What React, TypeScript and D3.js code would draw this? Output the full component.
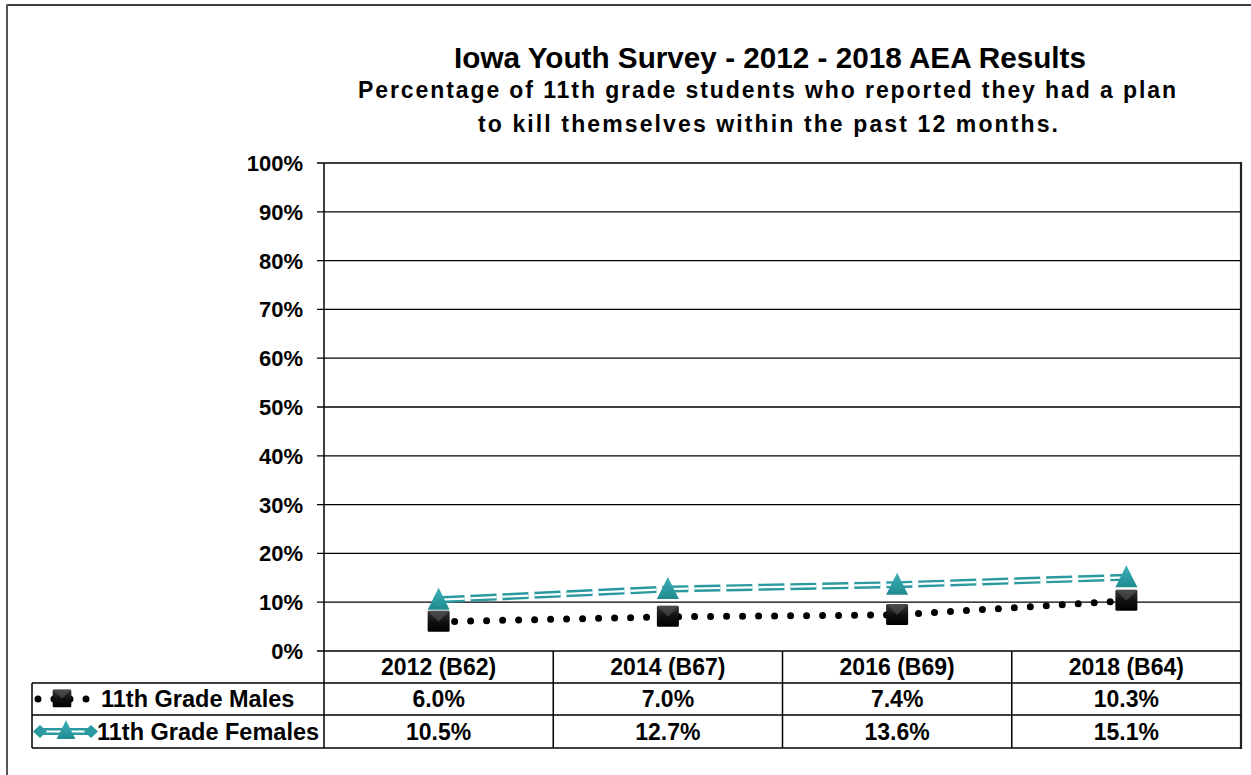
import React from "react";
import * as d3 from "d3";

const categories = ["2012 (B62)", "2014 (B67)", "2016 (B69)", "2018 (B64)"];
const males = [6.0, 7.0, 7.4, 10.3];
const females = [10.5, 12.7, 13.6, 15.1];
const seriesNames = ["11th Grade Males", "11th Grade Females"];
const yTicks = [0, 10, 20, 30, 40, 50, 60, 70, 80, 90, 100];
const titleLines = [
  "Iowa Youth Survey - 2012 - 2018 AEA Results",
  "Percentage  of 11th grade  students  who reported they had a plan",
  "to kill  themselves  within  the past 12 months.",
];

const W = 1251;
const H = 775;
const left = 324;
const right = 1241;
const top = 163;
const bottom = 651;
const rowH = [651, 683, 715, 748];
const legendLeft = 32;
const TEAL = "#2A9AA0";
const FONT = "'Liberation Sans', Arial, sans-serif";

export default function App() {
  const x = d3.scaleBand<string>().domain(categories).range([left, right]);
  const y = d3.scaleLinear().domain([0, 100]).range([bottom, top]);
  const cx = (i: number) => (x(categories[i]) as number) + x.bandwidth() / 2;
  const line = d3
    .line<number>()
    .x((_, i) => cx(i))
    .y((d) => y(d));

  const tri = (px: number, py: number, s = 1) =>
    `M${px},${py - 12 * s} L${px + 11 * s},${py + 10 * s} L${px - 11 * s},${py + 10 * s} Z`;

  const square = (px: number, py: number, key: string, s = 1) => (
    <g key={key}>
      <rect x={px - 11 * s} y={py - 10 * s} width={22 * s} height={21 * s} fill="url(#sqGrad)" rx={1.5} />
      <path
        d={`M${px - 11 * s},${py - 10 * s} L${px + 11 * s},${py - 10 * s} L${px},${py + 1 * s} Z`}
        fill="#5a5a5a"
        opacity={0.55}
      />
    </g>
  );

  const diamond = (px: number, py: number) =>
    `M${px - 7},${py} L${px},${py - 6.5} L${px + 7},${py} L${px},${py + 6.5} Z`;

  const rowMid = [
    (rowH[0] + rowH[1]) / 2,
    (rowH[1] + rowH[2]) / 2,
    (rowH[2] + rowH[3]) / 2,
  ];

  return (
    <svg
      width={W}
      height={H}
      style={{ position: "absolute", left: 0, top: 0, background: "#fff" }}
      fontFamily={FONT}
    >
      <defs>
        <linearGradient id="sqGrad" x1="0" y1="0" x2="0" y2="1">
          <stop offset="0" stopColor="#3a3a3a" />
          <stop offset="0.5" stopColor="#111" />
          <stop offset="1" stopColor="#000" />
        </linearGradient>
        <linearGradient id="triGrad" x1="0" y1="0" x2="0" y2="1">
          <stop offset="0" stopColor="#3db3b8" />
          <stop offset="1" stopColor="#1f8a90" />
        </linearGradient>
      </defs>
      <rect x={0} y={0} width={W} height={H} fill="#fff" />
      {/* outer frame */}
      <line x1={7} y1={5} x2={W + 10} y2={5} stroke="#000" strokeWidth={1.5} />
      <line x1={7} y1={4.5} x2={7} y2={H + 10} stroke="#555" strokeWidth={2} />

      {/* titles */}
      <text x={770} y={67.5} textAnchor="middle" fontWeight="bold" fontSize={29} textLength={632} lengthAdjust="spacingAndGlyphs">
        {titleLines[0]}
      </text>
      <text x={767} y={98} textAnchor="middle" fontWeight="bold" fontSize={23} textLength={818} lengthAdjust="spacing">
        {titleLines[1]}
      </text>
      <text x={768} y={132} textAnchor="middle" fontWeight="bold" fontSize={23} textLength={580} lengthAdjust="spacing">
        {titleLines[2]}
      </text>

      {/* gridlines and ticks */}
      {yTicks.map((t) => (
        <g key={t}>
          <line x1={left - 7} x2={right} y1={y(t)} y2={y(t)} stroke="#000" strokeWidth={1.3} />
          <text x={303} y={y(t)} dy="0.36em" textAnchor="end" fontWeight="bold" fontSize={22}>
            {t}%
          </text>
        </g>
      ))}
      {/* axis and right border */}
      <line x1={left} x2={left} y1={top} y2={rowH[3]} stroke="#000" strokeWidth={1.5} />
      <line x1={right} x2={right} y1={top - 1} y2={rowH[3] + 1} stroke="#222" strokeWidth={2.2} />

      {/* data table */}
      {categories.slice(1).map((c) => (
        <line key={c} x1={x(c) as number} x2={x(c) as number} y1={rowH[0]} y2={rowH[3]} stroke="#000" strokeWidth={1.5} />
      ))}
      {rowH.slice(1).map((r) => (
        <line key={r} x1={legendLeft} x2={right} y1={r} y2={r} stroke="#000" strokeWidth={1.5} />
      ))}
      <line x1={legendLeft} x2={legendLeft} y1={rowH[1]} y2={rowH[3]} stroke="#000" strokeWidth={1.5} />
      {categories.map((c, i) => (
        <g key={c}>
          <text x={cx(i)} y={rowMid[0]} dy="0.36em" textAnchor="middle" fontWeight="bold" fontSize={23}>
            {c}
          </text>
          <text x={cx(i)} y={rowMid[1]} dy="0.36em" textAnchor="middle" fontWeight="bold" fontSize={23}>
            {males[i].toFixed(1)}%
          </text>
          <text x={cx(i)} y={rowMid[2]} dy="0.36em" textAnchor="middle" fontWeight="bold" fontSize={23}>
            {females[i].toFixed(1)}%
          </text>
        </g>
      ))}

      {/* legend keys */}
      <line x1={38} x2={87} y1={rowMid[1]} y2={rowMid[1]} stroke="#000" strokeWidth={7} strokeLinecap="round" strokeDasharray="0 16" />
      {square(62, rowMid[1] - 1, "lg-sq", 0.85)}
      <line x1={40} x2={92} y1={rowMid[2]} y2={rowMid[2]} stroke={TEAL} strokeWidth={7} />
      <line x1={40} x2={92} y1={rowMid[2]} y2={rowMid[2]} stroke="#fff" strokeWidth={2.2} />
      <path d={diamond(40, rowMid[2])} fill={TEAL} />
      <path d={diamond(91, rowMid[2])} fill={TEAL} />
      <path d={tri(66, rowMid[2] - 1, 0.85)} fill="url(#triGrad)" />
      <text x={101} y={rowMid[1]} dy="0.36em" fontWeight="bold" fontSize={23.5}>
        {seriesNames[0]}
      </text>
      <text x={97} y={rowMid[2]} dy="0.36em" fontWeight="bold" fontSize={23.5}>
        {seriesNames[1]}
      </text>

      {/* series lines */}
      <path d={line(females) as string} fill="none" stroke={TEAL} strokeWidth={7} strokeDasharray="26 6" />
      <path d={line(females) as string} fill="none" stroke="#fff" strokeWidth={2.2} strokeDasharray="26 6" />
      <path d={line(males) as string} fill="none" stroke="#000" strokeWidth={7} strokeLinecap="round" strokeDasharray="0 16" />

      {/* markers */}
      {males.map((v, i) => square(cx(i), y(v) - 1, `m${i}`))}
      {females.map((v, i) => (
        <path key={`f${i}`} d={tri(cx(i), y(v))} fill="url(#triGrad)" />
      ))}
    </svg>
  );
}
